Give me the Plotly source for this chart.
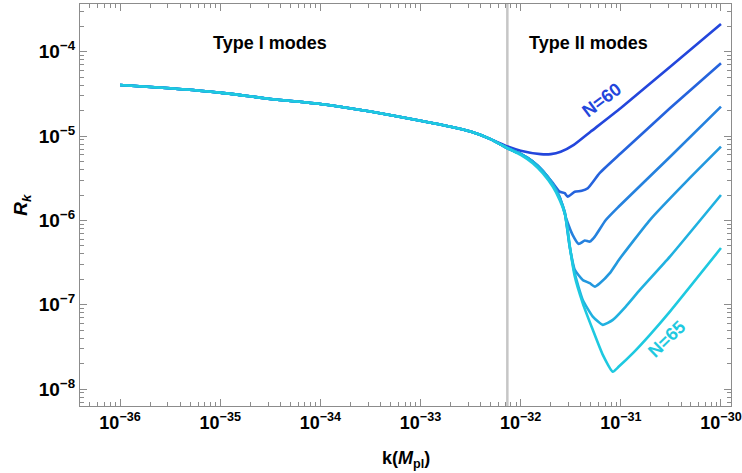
import math
import plotly.graph_objects as go

# Shared slow-roll branch (Type I modes), k in Planck units
K_TYPE1 = [1e-36, 3.16e-36, 1e-35, 3.16e-35, 1e-34, 3.16e-34, 1e-33, 2e-33, 3.16e-33, 5e-33]
R_TYPE1 = [4.03e-5, 3.68e-5, 3.27e-5, 2.75e-5, 2.4e-5, 1.95e-5, 1.52e-5, 1.29e-5, 1.13e-5, 9.2e-6]

# Type II branches, one per number of e-folds N
K_N60 = [7.4e-33, 1e-32, 1.58e-32, 2e-32, 2.51e-32, 3.39e-32, 5.01e-32, 1e-31, 3.09e-31, 1e-30]
R_N60 = [7.5e-6, 6.7e-6, 6.1e-6, 6.1e-6, 6.5e-6, 7.85e-6, 1.13e-5, 2.15e-5, 6.6e-5, 2.13e-4]

K_N61 = [7.4e-33, 1e-32, 1.32e-32, 1.66e-32, 2.09e-32, 2.45e-32, 2.75e-32, 2.95e-32,
         3.47e-32, 4.07e-32, 4.68e-32, 6.17e-32, 1e-31, 3.09e-31, 1e-30]
R_N61 = [7.16e-6, 6.14e-6, 4.98e-6, 3.86e-6, 2.78e-6, 2.19e-6, 2.10e-6, 1.91e-6,
         2.19e-6, 2.24e-6, 2.41e-6, 3.66e-6, 6.25e-6, 2.13e-5, 7.3e-5]

K_N62 = [7.4e-33, 1e-32, 1.32e-32, 1.66e-32, 2.09e-32, 2.45e-32, 2.88e-32, 3.31e-32,
         3.8e-32, 4.37e-32, 4.9e-32, 5.5e-32, 7.08e-32, 9.55e-32, 3.09e-31, 1e-30]
R_N62 = [7.16e-6, 6.14e-6, 4.98e-6, 3.86e-6, 2.69e-6, 1.91e-6, 1.01e-6, 6.7e-7,
         5.26e-7, 5.77e-7, 5.61e-7, 6.43e-7, 1.01e-6, 1.46e-6, 5.65e-6, 2.23e-5]

K_N63 = [7.4e-33, 1e-32, 1.32e-32, 1.66e-32, 2.09e-32, 2.45e-32, 2.75e-32, 3.09e-32,
         3.47e-32, 4.17e-32, 4.9e-32, 5.5e-32, 6.17e-32, 7.76e-32, 9.55e-32, 1.95e-31,
         4.68e-31, 1e-30]
R_N63 = [7.16e-6, 6.14e-6, 4.98e-6, 3.86e-6, 2.69e-6, 1.86e-6, 1.26e-6, 4.85e-7,
         2.59e-7, 1.97e-7, 1.8e-7, 1.64e-7, 1.8e-7, 2.37e-7, 3.4e-7, 1.01e-6,
         3.02e-6, 7.48e-6]

K_N64 = [7.4e-33, 1e-32, 1.32e-32, 1.66e-32, 2.09e-32, 2.45e-32, 2.75e-32, 3.09e-32,
         3.47e-32, 4.17e-32, 5.25e-32, 6.61e-32, 8.32e-32, 1.12e-31, 1.55e-31, 3.09e-31, 1e-30]
R_N64 = [7.16e-6, 6.14e-6, 4.98e-6, 3.86e-6, 2.69e-6, 1.86e-6, 1.26e-6, 4.85e-7,
         2.34e-7, 1.14e-7, 7.24e-8, 5.78e-8, 6.62e-8, 9.53e-8, 1.5e-7, 3.72e-7, 2.0e-6]

K_N65 = [7.4e-33, 1e-32, 1.32e-32, 1.66e-32, 2.09e-32, 2.45e-32, 2.75e-32, 2.95e-32,
         3.09e-32, 3.47e-32, 4.17e-32, 5.25e-32, 6.61e-32, 8.32e-32, 9.55e-32, 1.32e-31,
         1.95e-31, 3.09e-31, 1e-30]
R_N65 = [7.16e-6, 5.97e-6, 4.76e-6, 3.62e-6, 2.51e-6, 1.75e-6, 1.22e-6, 7.7e-7,
         5.0e-7, 2.16e-7, 1.04e-7, 5.05e-8, 2.55e-8, 1.61e-8, 1.85e-8, 2.67e-8,
         4.4e-8, 8.3e-8, 4.7e-7]

N_LABELS = ["N=60", "N=61", "N=62", "N=63", "N=64", "N=65"]
K_BRANCHES = [K_N60, K_N61, K_N62, K_N63, K_N64, K_N65]
R_BRANCHES = [R_N60, R_N61, R_N62, R_N63, R_N64, R_N65]
COLORS = ["#2346dc", "#2563dd", "#2581de", "#2398de", "#20b1e0", "#1ec9e0"]

K_TRANSITION = 7.36e-33   # boundary between Type I and Type II modes

X_TICKS = [1e-36, 1e-35, 1e-34, 1e-33, 1e-32, 1e-31, 1e-30]
X_TICKTEXT = ["10<sup>\u221236</sup>", "10<sup>\u221235</sup>", "10<sup>\u221234</sup>",
              "10<sup>\u221233</sup>", "10<sup>\u221232</sup>", "10<sup>\u221231</sup>",
              "10<sup>\u221230</sup>"]
Y_TICKS = [1e-8, 1e-7, 1e-6, 1e-5, 1e-4]
Y_TICKTEXT = ["10<sup>\u22128</sup>", "10<sup>\u22127</sup>", "10<sup>\u22126</sup>",
              "10<sup>\u22125</sup>", "10<sup>\u22124</sup>"]

FONT = "Liberation Sans, Arial, sans-serif"
FRAME = "#8c8c8c"

fig = go.Figure()

# boundary line between the two regimes
fig.add_trace(go.Scatter(x=[K_TRANSITION, K_TRANSITION], y=[1e-9, 1e-3], mode="lines",
                         line=dict(color="#c6c6c6", width=2.5), hoverinfo="skip",
                         showlegend=False))

for name, kb, rb, col in zip(N_LABELS, K_BRANCHES, R_BRANCHES, COLORS):
    fig.add_trace(go.Scatter(x=K_TYPE1 + kb, y=R_TYPE1 + rb, mode="lines", name=name,
                             line=dict(color=col, width=2.6, shape="spline", smoothing=0.5),
                             showlegend=False))

axis_common = dict(
    type="log", showgrid=False, zeroline=False, showline=True, linecolor=FRAME,
    linewidth=1.2, mirror="allticks", ticks="inside", ticklen=7, tickwidth=1,
    tickcolor=FRAME,
    minor=dict(ticks="inside", ticklen=4, tickwidth=1, tickcolor=FRAME, dtick="D1",
               showgrid=False),
    tickmode="array",
)

fig.update_xaxes(range=[-36.4, -29.9], tickvals=X_TICKS, ticktext=X_TICKTEXT,
                 tickfont=dict(family=FONT, size=18, color="black", weight="bold"),
                 **axis_common)
fig.update_yaxes(range=[-8.2, -3.435], tickvals=Y_TICKS, ticktext=Y_TICKTEXT,
                 tickfont=dict(family=FONT, size=19, color="black", weight="bold"),
                 **axis_common)

def lg(v):
    return math.log10(v)

annotations = [
    dict(x=lg(3.16e-35), y=lg(1.27e-4), text="<b>Type I modes</b>", xref="x", yref="y",
         showarrow=False, font=dict(family=FONT, size=18, color="black")),
    dict(x=lg(4.8e-32), y=lg(1.27e-4), text="<b>Type II modes</b>", xref="x", yref="y",
         showarrow=False, font=dict(family=FONT, size=18, color="black")),
    dict(x=lg(6.45e-32), y=lg(2.67e-5), text="<b>N=60</b>", xref="x", yref="y",
         showarrow=False, textangle=-37, font=dict(family=FONT, size=18, color=COLORS[0])),
    dict(x=lg(2.88e-31), y=lg(3.94e-8), text="<b>N=65</b>", xref="x", yref="y",
         showarrow=False, textangle=-44, font=dict(family=FONT, size=18, color=COLORS[5])),
    dict(x=0.5, y=-0.134, xref="paper", yref="paper", showarrow=False,
         text="<b>k(<i>M</i><sub>pl</sub>)</b>", yanchor="middle",
         font=dict(family=FONT, size=18, color="black")),
    dict(x=-0.0896, y=0.5, xref="paper", yref="paper", showarrow=False, textangle=-90,
         text="<b><i>R</i><sub><i>k</i></sub></b>", xanchor="center", yanchor="middle",
         font=dict(family=FONT, size=19, color="black")),
]

fig.update_layout(
    width=742, height=473,
    margin=dict(l=80, r=11, t=4, b=67, autoexpand=False),
    paper_bgcolor="white", plot_bgcolor="white",
    annotations=annotations,
    showlegend=False,
)

fig.write_html("out.html")
